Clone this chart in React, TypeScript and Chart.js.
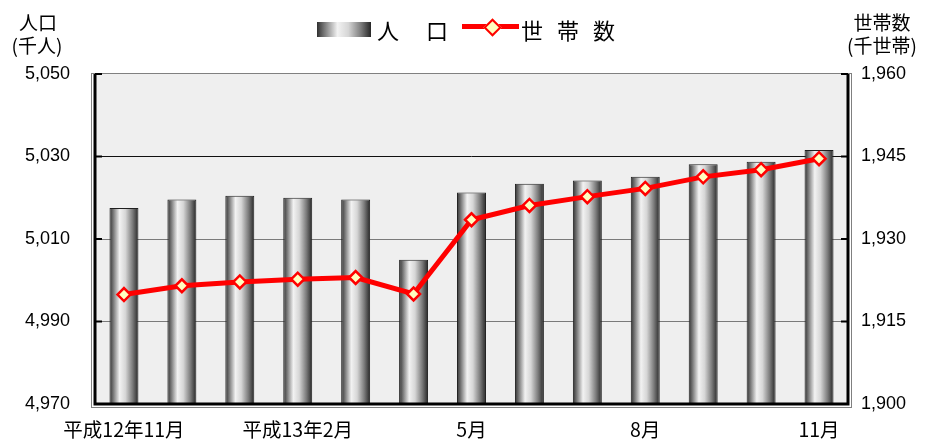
import React, { useEffect, useRef } from "react";
import { Chart, registerables } from "chart.js";

Chart.register(...registerables);

const categories = [
  "平成12年11月", "12月", "平成13年1月", "平成13年2月", "3月", "4月", "5月",
  "6月", "7月", "8月", "9月", "10月", "11月",
];
const xTickLabels = [
  "平成12年11月", "", "", "平成13年2月", "", "", "5月", "", "", "8月", "", "", "11月",
];
const population = [
  5017.5, 5019.6, 5020.5, 5020.0, 5019.6, 5005.0, 5021.3, 5023.4, 5024.2, 5025.1,
  5028.1, 5028.7, 5031.6,
];
const households = [
  1919.9, 1921.5, 1922.2, 1922.7, 1923.0, 1920.0, 1933.5, 1936.1, 1937.7, 1939.2,
  1941.3, 1942.6, 1944.6,
];
const leftTicks = [4970, 4990, 5010, 5030, 5050];
const rightTicks = [1900, 1915, 1930, 1945, 1960];

const FONT_JP = "'Noto Sans CJK JP', sans-serif";
const FONT_NUM = "'Liberation Sans', Arial, sans-serif";

const stops: [number, string][] = [
  [0, "#303030"],
  [0.12, "#707070"],
  [0.35, "#f2f2f2"],
  [0.55, "#d6d6d6"],
  [0.8, "#7a7a7a"],
  [1, "#262626"],
];

const framePlugin = {
  id: "frame",
  beforeDraw(chart: any) {
    const { ctx, chartArea: a } = chart;
    ctx.save();
    ctx.fillStyle = "#efefef";
    ctx.fillRect(a.left, a.top, a.right - a.left, a.bottom - a.top);
    ctx.restore();
  },
  afterDraw(chart: any) {
    const { ctx, chartArea: a, scales } = chart;
    ctx.save();
    ctx.strokeStyle = "#808080";
    ctx.lineWidth = 1;
    ctx.strokeRect(a.left - 3.5, a.top - 0.5, a.right - a.left + 7, a.bottom - a.top + 4);
    ctx.strokeStyle = "#000";
    ctx.lineWidth = 3;
    ctx.beginPath();
    ctx.moveTo(a.left, a.top);
    ctx.lineTo(a.left, a.bottom);
    ctx.lineTo(a.right, a.bottom);
    ctx.lineTo(a.right, a.top);
    ctx.stroke();
    ctx.lineWidth = 2;
    leftTicks.forEach((v) => {
      const y = scales.y.getPixelForValue(v);
      ctx.beginPath();
      ctx.moveTo(a.left, y);
      ctx.lineTo(a.left + 7, y);
      ctx.stroke();
    });
    rightTicks.forEach((v) => {
      const y = scales.y1.getPixelForValue(v);
      ctx.beginPath();
      ctx.moveTo(a.right - 7, y);
      ctx.lineTo(a.right, y);
      ctx.stroke();
    });
    ctx.restore();
  },
};

export default function App() {
  const canvasRef = useRef<HTMLCanvasElement | null>(null);

  useEffect(() => {
    document.body.style.margin = "0";
    const canvas = canvasRef.current;
    if (!canvas) return;
    const chart = new Chart(canvas, {
      type: "bar",
      data: {
        labels: categories,
        datasets: [
          {
            type: "line",
            label: "世帯数",
            data: households,
            yAxisID: "y1",
            borderColor: "#ff0000",
            borderWidth: 5,
            pointStyle: "rectRot",
            pointRadius: 6.5,
            pointBorderWidth: 2.5,
            pointBackgroundColor: "#ffffc0",
            pointBorderColor: "#ff0000",
            tension: 0,
            order: 0,
          } as any,
          {
            type: "bar",
            label: "人口",
            data: population,
            yAxisID: "y",
            categoryPercentage: 1,
            barPercentage: 0.5,
            borderColor: "#202020",
            borderWidth: 1,
            backgroundColor: (c: any) => {
              const ch = c.chart;
              const area = ch.chartArea;
              if (!area || !ch.scales || !ch.scales.x) return "#999";
              const x = ch.scales.x.getPixelForValue(c.dataIndex);
              const w = ((area.right - area.left) / categories.length) * 0.5;
              const g = ch.ctx.createLinearGradient(x - w / 2, 0, x + w / 2, 0);
              stops.forEach(([o, col]) => g.addColorStop(o, col));
              return g;
            },
            order: 1,
          } as any,
        ],
      },
      options: {
        animation: false,
        responsive: false,
        layout: { padding: { top: 74, left: 0, right: 0, bottom: 0 } },
        plugins: {
          legend: { display: false },
          tooltip: { enabled: false },
        },
        scales: {
          x: {
            grid: { display: false, drawTicks: false },
            border: { display: false },
            ticks: {
              autoSkip: false,
              maxRotation: 0,
              padding: 14,
              color: "#000",
              font: { family: FONT_JP, size: 19.5 },
              callback: (_v: any, i: number) => xTickLabels[i],
            },
            afterFit: (s: any) => {
              s.height = 37;
            },
          },
          y: {
            position: "left",
            min: 4970,
            max: 5050,
            afterBuildTicks: (s: any) => {
              s.ticks = leftTicks.map((v) => ({ value: v }));
            },
            grid: {
              drawTicks: false,
              color: (c: any) =>
                c.tick && (c.tick.value === 4970 || c.tick.value === 5050)
                  ? "rgba(0,0,0,0)"
                  : c.tick && c.tick.value === 5030
                  ? "#101010"
                  : "#7a7a7a",
            },
            border: { display: false },
            ticks: {
              padding: 25,
              color: "#000",
              font: { family: FONT_NUM, size: 18 },
              callback: (v: any) => Number(v).toLocaleString("en-US"),
            },
            afterFit: (s: any) => {
              s.width = 95;
            },
          },
          y1: {
            position: "right",
            min: 1900,
            max: 1960,
            afterBuildTicks: (s: any) => {
              s.ticks = rightTicks.map((v) => ({ value: v }));
            },
            grid: { display: false, drawTicks: false },
            border: { display: false },
            ticks: {
              padding: 13,
              color: "#000",
              font: { family: FONT_NUM, size: 18 },
              callback: (v: any) => Number(v).toLocaleString("en-US"),
            },
            afterFit: (s: any) => {
              s.width = 77;
            },
          },
        },
      },
      plugins: [framePlugin],
    });
    return () => chart.destroy();
  }, []);

  const textBase: React.CSSProperties = {
    position: "absolute",
    fontFamily: FONT_JP,
    color: "#000",
    whiteSpace: "nowrap",
    lineHeight: 1,
  };

  return (
    <div style={{ position: "relative", width: 925, height: 441, background: "#fff", overflow: "hidden" }}>
      <canvas ref={canvasRef} width={925} height={441} style={{ display: "block", width: 925, height: 441 }} />
      {/* axis titles */}
      <div style={{ ...textBase, left: 0, width: 76, top: 12, textAlign: "center", fontSize: 19 }}>人口</div>
      <div style={{ ...textBase, left: 0, width: 74, top: 35, textAlign: "center", fontSize: 19 }}>(千人)</div>
      <div style={{ ...textBase, left: 842, width: 80, top: 12, textAlign: "center", fontSize: 19 }}>世帯数</div>
      <div style={{ ...textBase, left: 842, width: 80, top: 35, textAlign: "center", fontSize: 19 }}>(千世帯)</div>
      {/* legend */}
      <div
        style={{
          position: "absolute",
          left: 317,
          top: 22,
          width: 54,
          height: 15,
          background:
            "linear-gradient(to right, #303030 0%, #707070 12%, #f2f2f2 38%, #d6d6d6 58%, #7a7a7a 82%, #262626 100%)",
        }}
      />
      <div style={{ ...textBase, left: 377, top: 18, fontSize: 22 }}>人</div>
      <div style={{ ...textBase, left: 426, top: 18, fontSize: 22 }}>口</div>
      <div style={{ position: "absolute", left: 462, top: 24, width: 57, height: 5, background: "#ff0000" }} />
      <div
        style={{
          position: "absolute",
          left: 486,
          top: 20.5,
          width: 9,
          height: 9,
          background: "#ffffc0",
          border: "2.5px solid #ff0000",
          transform: "rotate(45deg)",
        }}
      />
      <div style={{ ...textBase, left: 521, top: 18, fontSize: 22, letterSpacing: 14 }}>世帯数</div>
    </div>
  );
}
